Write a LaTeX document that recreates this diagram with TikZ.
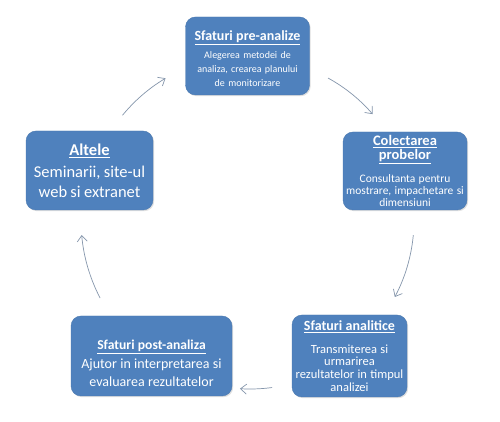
\documentclass[tikz,border=0pt]{standalone}
\usepackage{fontspec}
\setmainfont{Carlito}
\usetikzlibrary{arrows.meta,shadows}
\definecolor{boxblue}{HTML}{4F81BD}
\definecolor{boxedge}{HTML}{4A79B0}
\definecolor{arrgray}{HTML}{8596AC}
\newcommand{\boxtitle}[1]{{\bfseries\underline{#1}}}
\newcommand{\fs}[2]{\fontsize{#1}{#2}\selectfont}
\tikzset{
  box/.style={draw=boxedge, line width=0.4pt, fill=boxblue, rounded corners=10pt,
    text=white, align=center, inner sep=2pt,
    drop shadow={opacity=0.25, shadow xshift=1.2pt, shadow yshift=-1.2pt}},
  arr/.style={draw=arrgray, line width=0.7pt, -{Straight Barb[length=6pt,width=10pt]}},
}
\begin{document}
\begin{tikzpicture}[x=1pt,y=1pt]
\useasboundingbox[fill=white] (0,0) rectangle (500,422);
\coordinate (c) at (250,202);

\node[box, minimum width=124pt, minimum height=78pt, text width=120pt] (pre) at (247.5,366)
  {\fs{14}{16}\rule{0pt}{15pt}\boxtitle{Sfaturi pre-analize}\par\vspace{4pt}
   \fs{10}{14}Alegerea metodei de\\analiza, crearea planului\\de monitorizare\par};

\node[box, minimum width=124pt, minimum height=78pt, text width=120pt] (col) at (405,251)
  {\fs{14.5}{14.5}\boxtitle{Colectarea}\\\boxtitle{probelor}\par\vspace{9pt}
   \fs{11.5}{12.2}Consultanta pentru\\mostrare, impachetare si\\dimensiuni\par};

\node[box, minimum width=115pt, minimum height=82pt, text width=111pt] (ana) at (349.5,66)
  {\fs{14}{16}\boxtitle{Sfaturi analitice}\par\vspace{10pt}
   \fs{12.5}{12.6}Transmiterea si\\urmarirea\\rezultatelor in timpul\\analizei\par};

\node[box, minimum width=161pt, minimum height=80pt, text width=157pt] (post) at (151.5,66)
  {\fs{13.6}{16}\rule{0pt}{24pt}\boxtitle{Sfaturi post-analiza}\par\vspace{1pt}
   \fs{14}{18}Ajutor in interpretarea si\\evaluarea rezultatelor\par};

\node[box, minimum width=127pt, minimum height=79pt, text width=123pt] (alt) at (89.5,251.5)
  {\fs{16.5}{18}\boxtitle{Altele}\par\vspace{2pt}
   \fs{16.5}{20}Seminarii, site-ul\\web si extranet\par};

\draw[arr] ([shift={(140.6:165)}]c) arc[start angle=140.6, end angle=120.8, radius=165];
\draw[arr] ([shift={(61.2:162)}]c) arc[start angle=61.2, end angle=40.8, radius=162];
\draw[arr] ([shift={(-5.3:164)}]c) arc[start angle=-5.3, end angle=-28, radius=164];
\draw[arr] ([shift={(-82.5:169)}]c) arc[start angle=-82.5, end angle=-93.4, radius=169];
\draw[arr] ([shift={(207.5:169)}]c) arc[start angle=207.5, end angle=185.1, radius=169];
\end{tikzpicture}
\end{document}
